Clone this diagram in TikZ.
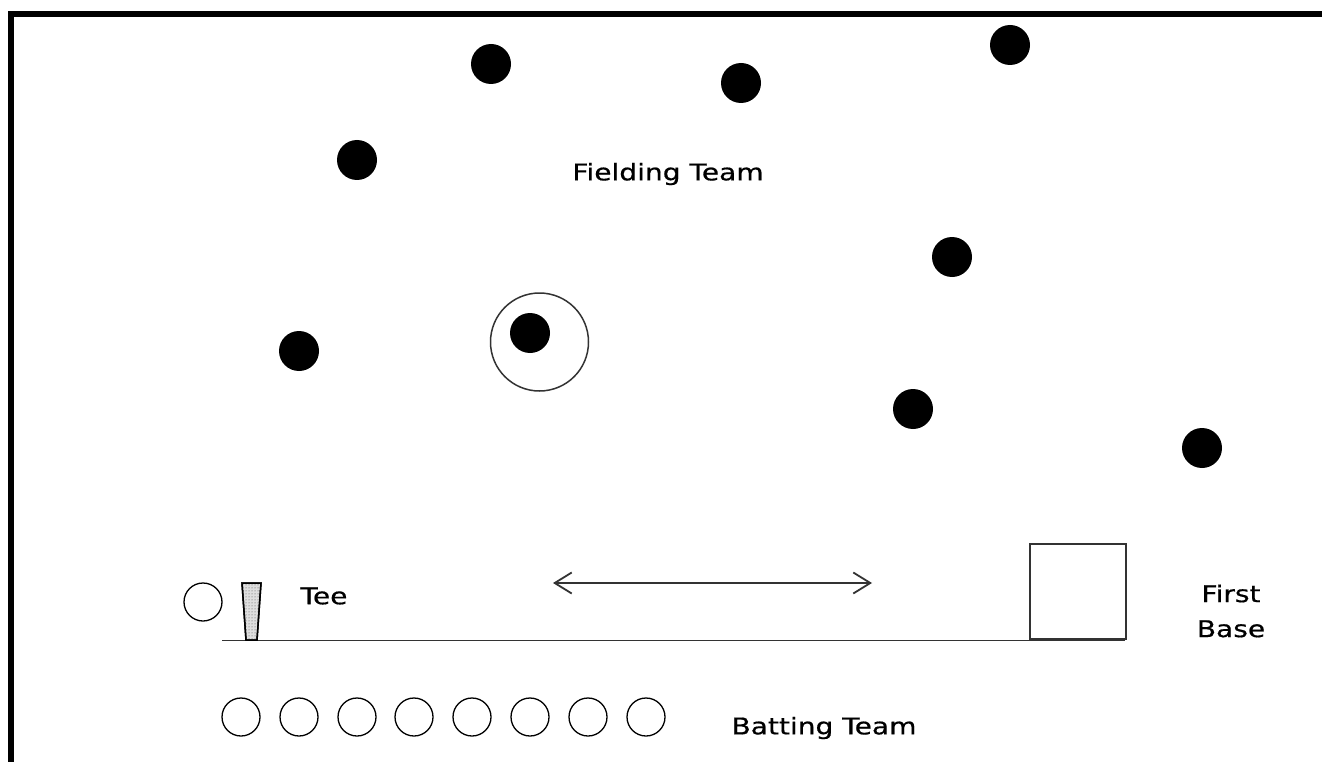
\documentclass[tikz,border=0pt]{standalone}
\usepackage{fontspec}
\newfontfamily\comic[FakeStretch=1.22,FakeBold=0.6]{DejaVu Sans}
\usetikzlibrary{arrows.meta,patterns}
\begin{document}
\begin{tikzpicture}[x=1pt,y=-1pt,
  player/.style={circle,fill=black,inner sep=0pt,minimum size=40pt},
  batter/.style={circle,draw=black,line width=1.3pt,inner sep=0pt,minimum size=38pt},
  lbl/.style={font=\comic\fontsize{23}{35}\selectfont,text=black,align=center,inner sep=0pt},
  ink/.style={draw=black!80,line width=1.8pt}]
\useasboundingbox (0,0) rectangle (1322,762);
\fill[white] (0,0) rectangle (1322,762);
% border
\draw[line width=6pt,line cap=rect] (11,762) -- (11,14) -- (1322,14);
% fielders
\node[player] (f1) at (491,64) {};
\node[player] (f2) at (741,83) {};
\node[player] (f3) at (1010,45) {};
\node[player] (f4) at (357,160) {};
\node[player] (f5) at (952,257) {};
\node[circle,draw=black!80,line width=1.5pt,inner sep=0pt,minimum size=98pt] (ring) at (539.5,342) {};
\node[player] (f6) at (530,333) {};
\node[player] (f7) at (299,351) {};
\node[player] (f8) at (913,409) {};
\node[player] (f9) at (1202,448) {};
\node[lbl] (ft) at (668,174) {Fielding Team};
% ground
\coordinate (g1) at (222,640.5);
\coordinate (g2) at (1125,640.5);
\draw[ink] (g1) -- (g2);
% tee
\filldraw[fill=gray!25,draw=black,line width=1.5pt] (242,583) -- (261,583) -- (257,640) -- (246,640) -- cycle;
\fill[pattern=dots,pattern color=black!70] (242,583) -- (261,583) -- (257,640) -- (246,640) -- cycle;
\draw[black,line width=1.5pt] (242,583) -- (261,583) -- (257,640) -- (246,640) -- cycle;
\node[batter] (ball) at (203,602) {};
\node[lbl] (tee) at (324,596) {Tee};
% arrow
\coordinate (a1) at (553,583);
\coordinate (a2) at (872,583);
\draw[ink,{Straight Barb[length=17pt,width=21pt]}-{Straight Barb[length=17pt,width=21pt]}] (a1) -- (a2);
% first base
\node[draw=black!80,line width=1.8pt,minimum width=96pt,minimum height=95pt,inner sep=0pt,anchor=south west] (base) at (1029,640) {};
\node[lbl] (fb) at (1231,611) {First\\Base};
% batting team
\foreach \i [count=\k] in {241,299,357,414,472,530,588,646}{
  \node[batter] (b\k) at (\i,717) {};
}
\node[lbl] (bt) at (824,728) {Batting Team};
\end{tikzpicture}
\end{document}
